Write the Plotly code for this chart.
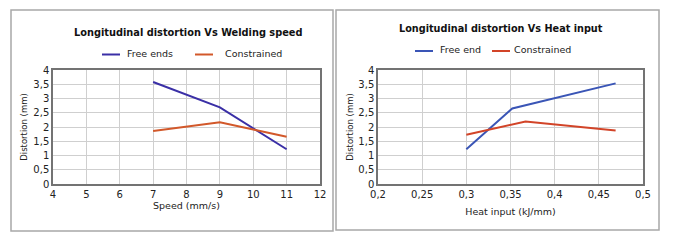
import plotly.graph_objects as go

W, H = 673, 243

speed = [7, 9, 11]
speed_free = [3.58, 2.69, 1.22]
speed_constr = [1.86, 2.17, 1.66]

heat_free_x = [0.3, 0.352, 0.469]
heat_free_y = [1.22, 2.65, 3.53]
heat_constr_x = [0.3, 0.367, 0.469]
heat_constr_y = [1.73, 2.19, 1.88]

left_names = ["Free ends", "Constrained"]
right_names = ["Free end", "Constrained"]
titles = ["Longitudinal distortion Vs Welding speed", "Longitudinal distortion Vs Heat input"]

C_BLUE_L = "#3a2fa6"
C_ORNG_L = "#d2582a"
C_BLUE_R = "#3a55b6"
C_ORNG_R = "#d24428"

FONT = "DejaVu Sans"

def px(x):
    return x / W

def py(y):
    return 1 - y / H

fig = go.Figure()
fig.add_trace(go.Scatter(x=speed, y=speed_free, mode="lines", line=dict(color=C_BLUE_L, width=2),
                         name=left_names[0], xaxis="x", yaxis="y", showlegend=False))
fig.add_trace(go.Scatter(x=speed, y=speed_constr, mode="lines", line=dict(color=C_ORNG_L, width=2),
                         name=left_names[1], xaxis="x", yaxis="y", showlegend=False))
fig.add_trace(go.Scatter(x=heat_free_x, y=heat_free_y, mode="lines", line=dict(color=C_BLUE_R, width=2),
                         name=right_names[0], xaxis="x2", yaxis="y2", showlegend=False))
fig.add_trace(go.Scatter(x=heat_constr_x, y=heat_constr_y, mode="lines", line=dict(color=C_ORNG_R, width=2),
                         name=right_names[1], xaxis="x2", yaxis="y2", showlegend=False))

axis_common = dict(showgrid=True, gridcolor="#cfcfcf", gridwidth=1, showline=True, linecolor="#737373",
                   linewidth=1.5, mirror=True, zeroline=False, ticks="", automargin=False,
                   tickfont=dict(family=FONT, size=10, color="#222"))

fig.update_layout(
    width=W, height=H, margin=dict(l=0, r=0, t=0, b=0, autoexpand=False),
    paper_bgcolor="white", plot_bgcolor="white",
    separators=", ",
    font=dict(family=FONT, color="#222"),
    xaxis=dict(domain=[px(53), px(320)], range=[4, 12], dtick=1, anchor="y",
               title=dict(text="Speed (mm/s)", font=dict(family=FONT, size=9.5), standoff=4), **axis_common),
    yaxis=dict(domain=[py(184), py(70)], range=[0, 4], dtick=0.5, anchor="x",
               title=dict(text="Distortion (mm)", font=dict(family=FONT, size=8.5), standoff=4), **axis_common),
    xaxis2=dict(domain=[px(378), px(643)], range=[0.2, 0.5], dtick=0.05, anchor="y2",
                title=dict(text="Heat input (kJ/mm)", font=dict(family=FONT, size=9.5), standoff=10), **axis_common),
    yaxis2=dict(domain=[py(184), py(70)], range=[0, 4], dtick=0.5, anchor="x2",
                title=dict(text="Distortion (mm)", font=dict(family=FONT, size=8.5), standoff=3), **axis_common),
)

shapes = [
    dict(type="rect", xref="paper", yref="paper", x0=px(11), x1=px(333), y0=py(231), y1=py(10),
         line=dict(color="#a8a8a8", width=1.5), fillcolor="rgba(0,0,0,0)", layer="below"),
    dict(type="rect", xref="paper", yref="paper", x0=px(336), x1=px(659), y0=py(230), y1=py(10),
         line=dict(color="#a8a8a8", width=1.5), fillcolor="rgba(0,0,0,0)", layer="below"),
]
annotations = [
    dict(text="<b>" + titles[0] + "</b>", x=px(188), y=py(33), xref="paper", yref="paper",
         showarrow=False, font=dict(family=FONT, size=9.8, color="#111"), xanchor="center", yanchor="middle"),
    dict(text="<b>" + titles[1] + "</b>", x=px(501), y=py(28), xref="paper", yref="paper",
         showarrow=False, font=dict(family=FONT, size=9.7, color="#111"), xanchor="center", yanchor="middle"),
]

# (line x0, line y, line length, text x, name, colour)
legend_items = [
    (102, 54.5, 18, 125, left_names[0], C_BLUE_L),
    (195, 54.5, 18, 223, left_names[1], C_ORNG_L),
    (415, 51, 18, 438, right_names[0], C_BLUE_R),
    (492, 51, 18, 512, right_names[1], C_ORNG_R),
]
for x0, y0, ln, tx, name, col in legend_items:
    shapes.append(dict(type="line", xref="paper", yref="paper", x0=px(x0), x1=px(x0 + ln), y0=py(y0), y1=py(y0),
                       line=dict(color=col, width=2)))
    annotations.append(dict(text=name, x=px(tx), y=py(y0 - 1), xref="paper", yref="paper",
                            showarrow=False, xanchor="left", yanchor="middle",
                            font=dict(family=FONT, size=9.5, color="#222")))

fig.update_layout(shapes=shapes, annotations=annotations)
fig.write_html("out.html", config={"displayModeBar": False},
               post_script="document.body.style.margin='0';document.body.style.overflow='hidden';")
